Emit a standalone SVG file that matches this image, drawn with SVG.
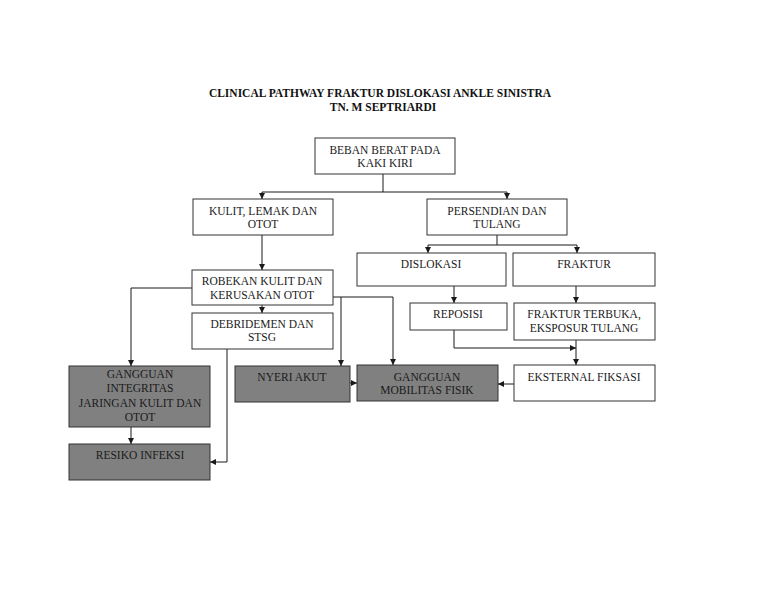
<svg xmlns="http://www.w3.org/2000/svg" width="768" height="594" viewBox="0 0 768 594">
<defs>
<marker id="ah" viewBox="0 0 6 6" refX="6" refY="3" markerWidth="6" markerHeight="6" orient="auto" markerUnits="userSpaceOnUse">
<path d="M0,0 L6,3 L0,6 z" fill="#1a1a1a"/>
</marker>
<style>
.box{fill:#ffffff;stroke:#333333;stroke-width:1}
.gbox{fill:#808080;stroke:#333333;stroke-width:1}
.t{font-family:"Liberation Serif","Times New Roman",serif;font-size:11.5px;fill:#1a1a1a;text-anchor:middle}
.title{font-family:"Liberation Serif","Times New Roman",serif;font-size:11.5px;font-weight:bold;fill:#111111;text-anchor:middle}
.c{fill:none;stroke:#1a1a1a;stroke-width:1}
.a{marker-end:url(#ah)}
</style>
</defs>
<rect width="768" height="594" fill="#ffffff"/>
<g id="title">
<text class="title" x="380" y="97">CLINICAL PATHWAY FRAKTUR DISLOKASI ANKLE SINISTRA</text>
<text class="title" x="383" y="111">TN. M SEPTRIARDI</text>
</g>
<g id="connectors">
<path class="c" d="M383,174 V192"/>
<path class="c" d="M262,192 H507"/>
<path class="c a" d="M262,192 V199"/>
<path class="c a" d="M507,192 V199"/>
<path class="c a" d="M262,235 V270"/>
<path class="c a" d="M262,305 V313"/>
<path class="c a" d="M192,288 H131 V366"/>
<path class="c" d="M333,297 H393"/>
<path class="c a" d="M341,297 V366"/>
<path class="c a" d="M393,297 V365"/>
<path class="c a" d="M227,349 V462 H210"/>
<path class="c" d="M497,235 V245"/>
<path class="c" d="M428,245 H577"/>
<path class="c a" d="M428,245 V253"/>
<path class="c a" d="M577,245 V253"/>
<path class="c a" d="M454,286 V303"/>
<path class="c a" d="M576,286 V303"/>
<path class="c a" d="M454,330 V348 H576"/>
<path class="c a" d="M576,340 V365"/>
<path class="c a" d="M514,384 H498"/>
<path class="c a" d="M350,383 H357"/>
<path class="c a" d="M131,427 V444"/>
</g>
<g id="beban">
<rect class="box" x="315" y="138" width="140" height="36"/>
<text class="t" x="385" y="154">BEBAN BERAT PADA</text>
<text class="t" x="385" y="167">KAKI KIRI</text>
</g>
<g id="kulit">
<rect class="box" x="193" y="199" width="140" height="36"/>
<text class="t" x="263" y="215">KULIT, LEMAK DAN</text>
<text class="t" x="263" y="228">OTOT</text>
</g>
<g id="persendian">
<rect class="box" x="427" y="199" width="140" height="36"/>
<text class="t" x="497" y="215">PERSENDIAN DAN</text>
<text class="t" x="497" y="228">TULANG</text>
</g>
<g id="robekan">
<rect class="box" x="192" y="270" width="141" height="35"/>
<text class="t" x="262" y="285">ROBEKAN KULIT DAN</text>
<text class="t" x="262" y="299">KERUSAKAN OTOT</text>
</g>
<g id="debridemen">
<rect class="box" x="192" y="313" width="141" height="36"/>
<text class="t" x="262" y="328">DEBRIDEMEN DAN</text>
<text class="t" x="262" y="341">STSG</text>
</g>
<g id="dislokasi">
<rect class="box" x="357" y="253" width="149" height="33"/>
<text class="t" x="431" y="268">DISLOKASI</text>
</g>
<g id="fraktur">
<rect class="box" x="513" y="253" width="142" height="33"/>
<text class="t" x="584" y="268">FRAKTUR</text>
</g>
<g id="reposisi">
<rect class="box" x="410" y="303" width="97" height="27"/>
<text class="t" x="458" y="318">REPOSISI</text>
</g>
<g id="fraktur-terbuka">
<rect class="box" x="514" y="303" width="141" height="37"/>
<text class="t" x="584" y="318">FRAKTUR TERBUKA,</text>
<text class="t" x="584" y="332">EKSPOSUR TULANG</text>
</g>
<g id="eksternal">
<rect class="box" x="514" y="365" width="141" height="36"/>
<text class="t" x="584" y="381">EKSTERNAL FIKSASI</text>
</g>
<g id="mobilitas">
<rect class="gbox" x="357" y="365" width="141" height="36"/>
<text class="t" x="427" y="381">GANGGUAN</text>
<text class="t" x="427" y="394">MOBILITAS FISIK</text>
</g>
<g id="nyeri">
<rect class="gbox" x="235" y="366" width="115" height="36"/>
<text class="t" x="292" y="381">NYERI AKUT</text>
</g>
<g id="integritas">
<rect class="gbox" x="69" y="366" width="141" height="61"/>
<text class="t" x="140" y="378">GANGGUAN</text>
<text class="t" x="140" y="392">INTEGRITAS</text>
<text class="t" x="140" y="407">JARINGAN KULIT DAN</text>
<text class="t" x="140" y="421">OTOT</text>
</g>
<g id="resiko">
<rect class="gbox" x="69" y="444" width="141" height="36"/>
<text class="t" x="140" y="459">RESIKO INFEKSI</text>
</g>
</svg>
